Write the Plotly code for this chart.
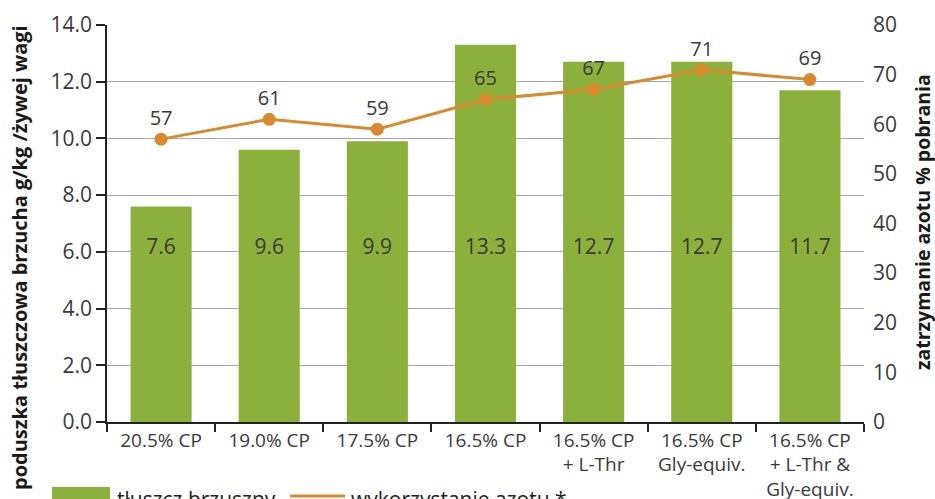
import plotly.graph_objects as go

# =========================================================
# Data
# =========================================================
categories = [
    "20.5% CP",
    "19.0% CP",
    "17.5% CP",
    "16.5% CP",
    "16.5% CP<br>+ L-Thr",
    "16.5% CP<br>Gly-equiv.",
    "16.5% CP<br>+ L-Thr &<br>Gly-equiv.",
]
belly_fat = [7.6, 9.6, 9.9, 13.3, 12.7, 12.7, 11.7]
n_retention = [57, 61, 59, 65, 67, 71, 69]

left_ticks = [0, 2, 4, 6, 8, 10, 12, 14]
right_ticks = [0, 10, 20, 30, 40, 50, 60, 70, 80]

GREEN = "#8cb03c"
ORANGE = "#d98a2e"
TEXT = "#3a3a3a"
FONT = "Open Sans"

W, H = 935, 499
L, R, T, B = 107, 71, 25, 77


def px_x(x):
    return (x - L) / (W - L - R)


def px_y(y):
    return (H - B - y) / (H - T - B)


fig = go.Figure()

fig.add_trace(
    go.Bar(
        x=categories,
        y=belly_fat,
        name="tłuszcz brzuszny",
        marker=dict(color=GREEN, line=dict(width=0)),
        width=0.565,
        yaxis="y",
        showlegend=False,
    )
)

# bar value labels, all at the same height
fig.add_trace(
    go.Scatter(
        x=categories,
        y=[6.1] * len(categories),
        mode="text",
        text=[f"{v:.1f}" for v in belly_fat],
        textfont=dict(size=21, color=TEXT, family=FONT),
        yaxis="y",
        showlegend=False,
        hoverinfo="skip",
    )
)

fig.add_trace(
    go.Scatter(
        x=categories,
        y=n_retention,
        name="wykorzystanie azotu *",
        mode="lines+markers+text",
        line=dict(color=ORANGE, width=3),
        marker=dict(color=ORANGE, size=13),
        text=[str(v) for v in n_retention],
        textposition="top center",
        textfont=dict(size=20, color=TEXT, family=FONT),
        yaxis="y2",
        showlegend=False,
        cliponaxis=False,
    )
)

# legend (drawn by hand to get the wide swatch)
shapes = [
    dict(type="rect", xref="paper", yref="paper",
         x0=px_x(52), x1=px_x(110), y0=px_y(487), y1=px_y(510),
         fillcolor=GREEN, line=dict(width=0)),
    dict(type="line", xref="paper", yref="paper",
         x0=px_x(290), x1=px_x(345), y0=px_y(496), y1=px_y(496),
         line=dict(color=ORANGE, width=3)),
]

annotations = [
    dict(text="tłuszcz brzuszny", xref="paper", yref="paper",
         x=px_x(115), y=px_y(499), xanchor="left", yanchor="middle",
         showarrow=False, font=dict(size=21, color="#222", family=FONT)),
    dict(text="wykorzystanie azotu *", xref="paper", yref="paper",
         x=px_x(349), y=px_y(499), xanchor="left", yanchor="middle",
         showarrow=False, font=dict(size=21, color="#222", family=FONT)),
    # axis titles
    dict(text="<b>poduszka tłuszczowa brzucha g/kg /żywej wagi</b>",
         xref="paper", yref="paper", x=px_x(19), y=px_y(258),
         xanchor="center", yanchor="middle", textangle=-90,
         showarrow=False, font=dict(size=20, color="#1a1a1a", family=FONT)),
    dict(text="<b>zatrzymanie azotu % pobrania</b>",
         xref="paper", yref="paper", x=px_x(922), y=px_y(222),
         xanchor="center", yanchor="middle", textangle=-90,
         showarrow=False, font=dict(size=19.5, color="#1a1a1a", family=FONT)),
]

fig.update_layout(
    width=W,
    height=H,
    margin=dict(l=L, r=R, t=T, b=B, autoexpand=False),
    paper_bgcolor="white",
    plot_bgcolor="white",
    font=dict(family=FONT, size=19, color=TEXT),
    bargap=0.435,
    shapes=shapes,
    annotations=annotations,
    xaxis=dict(
        type="category",
        showline=True,
        linecolor="#222",
        linewidth=1.5,
        ticks="outside",
        tickson="boundaries",
        ticklen=8,
        tickcolor="#222",
        tickwidth=1.5,
        tickfont=dict(size=19, color=TEXT),
        showgrid=False,
        fixedrange=True,
    ),
    yaxis=dict(
        range=[0, 14],
        tickvals=left_ticks,
        tickformat=".1f",
        showline=True,
        linecolor="#222",
        linewidth=1.5,
        ticks="outside",
        ticklen=9,
        tickcolor="#222",
        tickwidth=1.5,
        showgrid=True,
        gridcolor="#a8a8a8",
        gridwidth=1.3,
        tickfont=dict(size=21, color=TEXT),
        zeroline=False,
    ),
    yaxis2=dict(
        range=[0, 80],
        tickvals=right_ticks,
        overlaying="y",
        side="right",
        showgrid=False,
        showline=False,
        zeroline=False,
        ticks="",
        ticklabelstandoff=8,
        tickfont=dict(size=21, color=TEXT),
    ),
)

# drop the default page margin so the figure sits at the window's corner
fig.write_html(
    "out.html",
    config={"displayModeBar": False},
    post_script="document.body.style.margin='0';",
)
